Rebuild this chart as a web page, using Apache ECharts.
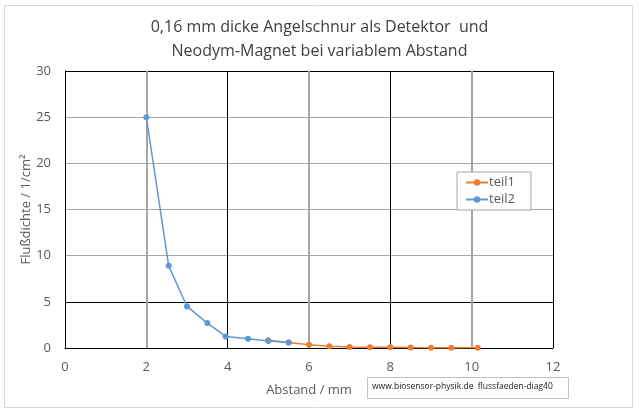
<!DOCTYPE html>
<html>
<head>
<meta charset="utf-8">
<script src="https://cdn.jsdelivr.net/npm/echarts@6/dist/echarts.min.js"></script>
<style>
	html, body { margin: 0; padding: 0; background: #fff; }
	#chart { width: 639px; height: 420px; }
</style>
</head>
<body>
<div id="chart"></div>
<script>
	// Messwerte (Abstand in mm, Flussdichte in 1/cm²)
	const teil1X = [5.0, 5.5, 6.0, 6.5, 7.0, 7.5, 8.0, 8.5, 9.0, 9.5, 10.15];
	const teil1Y = [0.85, 0.6, 0.35, 0.2, 0.12, 0.08, 0.08, 0.05, 0.04, 0.03, 0.02];
	const teil2X = [2.0, 2.55, 3.0, 3.5, 3.95, 4.5, 5.0, 5.5];
	const teil2Y = [25.0, 8.9, 4.5, 2.7, 1.25, 1.0, 0.75, 0.6];

	const titleLines = ['0,16 mm dicke Angelschnur als Detektor  und', 'Neodym-Magnet bei variablem Abstand'];
	const watermark = 'www.biosensor-physik.de  flussfaeden-diag40';

	const font = '"Open Sans", "Liberation Sans", sans-serif';
	const txt = '#595959';

	let myChart = echarts.init(document.getElementById('chart'));
	const option = {
		animation: false,
		color: ['#ed7d31', '#5b9bd5'],
		title: {
			text: titleLines.join('\n'),
			left: 'center',
			top: 10,
			textStyle: { fontFamily: font, fontSize: 16, fontWeight: 'normal', color: '#404040', lineHeight: 24 }
		},
		legend: {
			data: ['teil1', 'teil2'],
			orient: 'vertical',
			left: 457,
			top: 172,
			padding: [4, 16, 4, 8],
			itemGap: 4,
			itemWidth: 22,
			itemHeight: 8,
			borderColor: '#a6a6a6',
			borderWidth: 1,
			backgroundColor: '#fff',
			textStyle: { fontFamily: font, fontSize: 13, color: txt, padding: [0, 0, 0, -4] }
		},
		grid: { left: 65, right: 86, top: 71, bottom: 72 },
		xAxis: [{
			type: 'value',
			min: 0, max: 12, interval: 2,
			name: 'Abstand / mm',
			nameLocation: 'middle',
			nameGap: 36,
			nameMoveOverlap: false,
			nameTextStyle: { fontFamily: font, fontSize: 13, color: txt },
			axisLine: { lineStyle: { color: '#000', width: 1 } },
			axisTick: { show: false },
			axisLabel: { fontFamily: font, fontSize: 13, color: txt, margin: 13 },
			splitLine: { lineStyle: { color: ['#000', 'rgba(0,0,0,0)'], width: 1 } },
			z: 3
		}, {
			type: 'value',
			position: 'bottom',
			min: 0, max: 12, interval: 2,
			axisLine: { show: false },
			axisTick: { show: false },
			axisLabel: { show: false },
			splitLine: { lineStyle: { color: ['rgba(0,0,0,0)', '#a6a6a6'], width: 2 } }
		}],
		yAxis: {
			type: 'value',
			min: 0, max: 30, interval: 5,
			name: 'Flußdichte / 1/cm²',
			nameLocation: 'middle',
			nameGap: 32,
			nameMoveOverlap: false,
			nameTextStyle: { fontFamily: font, fontSize: 13, color: txt },
			axisLine: { show: true, lineStyle: { color: '#000', width: 1 } },
			axisTick: { show: false },
			axisLabel: { fontFamily: font, fontSize: 13, color: txt, margin: 14 },
			splitLine: { lineStyle: { color: ['#000', '#000', '#a6a6a6', '#a6a6a6', '#a6a6a6', '#a6a6a6', '#000'], width: 1 } }
		},
		series: [{
			name: 'teil1',
			type: 'line',
			data: teil1X.map((x, i) => [x, teil1Y[i]]),
			symbol: 'circle',
			symbolSize: 6,
			lineStyle: { width: 1.5 },
			z: 3
		}, {
			name: 'teil2',
			type: 'line',
			data: teil2X.map((x, i) => [x, teil2Y[i]]),
			symbol: 'circle',
			symbolSize: 6,
			lineStyle: { width: 1.5 },
			z: 3
		}],
		graphic: [{
			type: 'rect',
			shape: { x: 4.5, y: 5.5, width: 628, height: 402 },
			style: { fill: 'none', stroke: '#d9d9d9', lineWidth: 1 },
			silent: true
		}, {
			type: 'rect',
			shape: { x: 367.5, y: 377.5, width: 201, height: 21 },
			style: { fill: '#fff', stroke: '#bfbfbf', lineWidth: 1 },
			silent: true
		}, {
			type: 'text',
			left: 372,
			top: 382,
			style: { text: watermark, fontFamily: font, fontSize: 8.5, fill: '#1a1a1a' },
			silent: true
		}]
	};
	myChart.setOption(option);
</script>
</body>
</html>
